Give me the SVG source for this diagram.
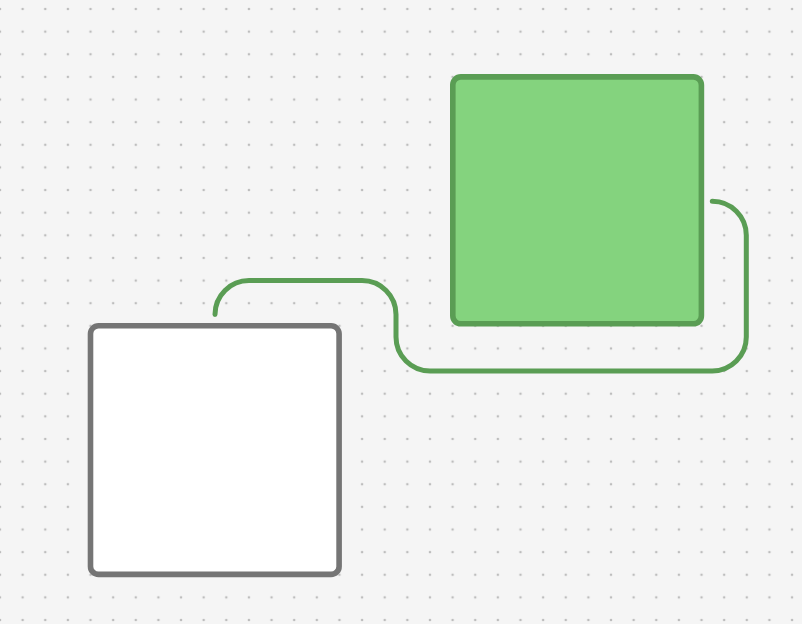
<svg xmlns="http://www.w3.org/2000/svg" width="802" height="624" viewBox="0 0 802 624">
  <defs>
    <pattern id="dots" x="0" y="9" width="22.63" height="22.63" patternUnits="userSpaceOnUse">
      <circle cx="0" cy="0" r="1.3" fill="#bdbdbd"/>
      <circle cx="22.63" cy="0" r="1.3" fill="#bdbdbd"/>
      <circle cx="0" cy="22.63" r="1.3" fill="#bdbdbd"/>
      <circle cx="22.63" cy="22.63" r="1.3" fill="#bdbdbd"/>
    </pattern>
    <style>
      .box { stroke-width: 5.6; }
      .plain { fill: #ffffff; stroke: #757575; }
      .green { fill: #84d37e; stroke: #5a9d54; }
      .edge { fill: none; stroke: #5a9d54; stroke-width: 5; stroke-linecap: round; stroke-linejoin: round; }
    </style>
  </defs>
  <rect x="0" y="0" width="802" height="624" fill="#f5f5f5"/>
  <rect x="0" y="0" width="802" height="624" fill="url(#dots)"/>
  <g id="connectors">
    <path class="edge" d="M 215 314.5 A 34 34 0 0 1 249 280.6 L 362 280.6 A 34 34 0 0 1 396 314.6 L 396 337 A 34 34 0 0 0 430 371 L 712.3 371 A 34 34 0 0 0 746.3 337 L 746.3 235.3 A 34 34 0 0 0 712.3 201.3"/>
  </g>
  <g id="node-white">
    <rect class="box plain" x="90.5" y="325.8" width="248.6" height="248.6" rx="8"/>
  </g>
  <g id="node-green">
    <rect class="box green" x="452.8" y="76.9" width="248.6" height="246.9" rx="8"/>
  </g>
</svg>
